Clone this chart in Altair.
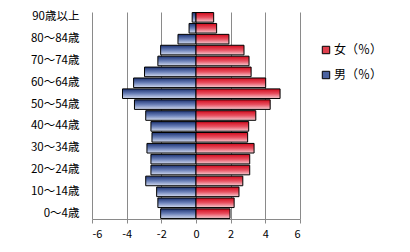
import altair as alt
import pandas as pd

ages = ["0～4歳", "5～9歳", "10～14歳", "15～19歳", "20～24歳", "25～29歳",
        "30～34歳", "35～39歳", "40～44歳", "45～49歳", "50～54歳", "55～59歳",
        "60～64歳", "65～69歳", "70～74歳", "75～79歳", "80～84歳", "85～89歳",
        "90歳以上"]
male = [2.04, 2.2, 2.27, 2.9, 2.6, 2.6, 2.83, 2.54, 2.6, 2.9, 3.55, 4.24,
        3.6, 2.97, 2.2, 2.04, 1.04, 0.4, 0.22]
female = [1.96, 2.2, 2.48, 2.7, 3.1, 3.1, 3.35, 2.98, 3.04, 3.45, 4.28, 4.85,
          4.02, 3.18, 3.06, 2.77, 1.9, 1.19, 1.02]
shown_labels = ["0～4歳", "10～14歳", "20～24歳", "30～34歳", "40～44歳",
                "50～54歳", "60～64歳", "70～74歳", "80～84歳", "90歳以上"]
x_ticks = [-6, -4, -2, 0, 2, 4, 6]
series = ["女（％）", "男（％）"]

rows = []
for a, m, f in zip(ages, male, female):
    rows.append({"age": a, "sex": series[1], "value": -m})
    rows.append({"age": a, "sex": series[0], "value": f})
df = pd.DataFrame(rows)

grad_blue = {"gradient": "linear", "x1": 0, "x2": 0, "y1": 0, "y2": 1,
             "stops": [{"offset": 0, "color": "#1c3272"},
                       {"offset": 0.5, "color": "#6a80b8"},
                       {"offset": 1, "color": "#d4dcf0"}]}
grad_red = {"gradient": "linear", "x1": 0, "x2": 0, "y1": 0, "y2": 1,
            "stops": [{"offset": 0, "color": "#d00a1c"},
                      {"offset": 0.5, "color": "#e85060"},
                      {"offset": 1, "color": "#f6cdd3"}]}

font = "Noto Sans CJK JP"
yorder = list(reversed(ages))

xaxis = alt.Axis(values=x_ticks, title=None, grid=True,
                 gridColor="#8a8a8a", domainColor="#8a8a8a",
                 tickColor="#8a8a8a", tickSize=4, labelPadding=5,
                 labelOverlap=False, labelExpr="datum.value + ''",
                 labelFont=font, labelFontSize=11, labelColor="#000")
yaxis = alt.Axis(values=shown_labels, title=None, domain=False,
                 ticks=False, grid=False, labelPadding=13,
                 labelOverlap=False,
                 labelFont=font, labelFontSize=11.5, labelColor="#000")
xscale = alt.Scale(domain=[-6, 6], nice=False, zero=False)
yscale = alt.Scale(paddingInner=0.12, paddingOuter=0.05)

xenc = alt.X("value:Q", scale=xscale, axis=xaxis)
yenc = alt.Y("age:N", sort=yorder, scale=yscale, axis=yaxis)

bars = alt.Chart(df).mark_bar(stroke="#000", strokeWidth=1).encode(
    x=xenc, y=yenc,
    fill=alt.condition(f"datum.sex == '{series[1]}'",
                       alt.value(grad_blue), alt.value(grad_red)),
)

legend_layer = alt.Chart(df).mark_point(opacity=0, filled=True).encode(
    x=xenc, y=yenc,
    color=alt.Color("sex:N",
                    scale=alt.Scale(domain=series, range=["#e0404e", "#4a62a0"]),
                    legend=alt.Legend(title=None, orient="none",
                                      legendX=228, legendY=32,
                                      symbolType="square", symbolSize=55,
                                      symbolOpacity=1,
                                      symbolStrokeColor="#000",
                                      symbolStrokeWidth=1,
                                      labelFont=font, labelFontSize=12,
                                      labelColor="#000", rowPadding=13,
                                      labelOffset=2)),
)

chart = alt.layer(bars, legend_layer).properties(
    width=208, height=207,
    autosize=alt.AutoSizeParams(type="none"),
    padding={"left": 84, "top": 4, "right": 94, "bottom": 25},
    background="white",
).configure_view(stroke=None)

chart.save("out.html", embed_options={"renderer": "svg", "actions": False})
